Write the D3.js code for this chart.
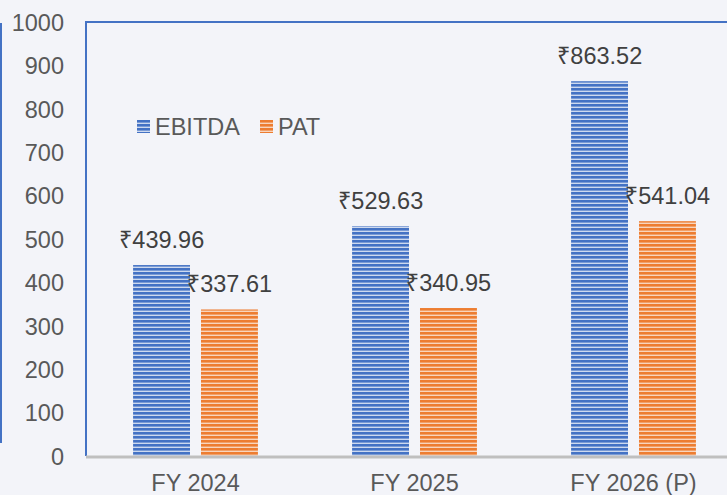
<!DOCTYPE html>
<html>
<head>
<meta charset="utf-8">
<script src="https://cdn.jsdelivr.net/npm/d3@7"></script>
<style>
  html, body { margin: 0; padding: 0; background: #f3f4f9; }
  svg { display: block; font-family: 'Liberation Sans', Arial, sans-serif; }
</style>
</head>
<body>
<svg id="chart" width="727" height="495"></svg>
<script>
// Data
const categories = ['FY 2024', 'FY 2025', 'FY 2026 (P)'];
const seriesNames = ['EBITDA', 'PAT'];
const ebitda = [439.96, 529.63, 863.52];
const pat = [337.61, 340.95, 541.04];
const yTicks = [0, 100, 200, 300, 400, 500, 600, 700, 800, 900, 1000];

const WIDTH = 727;
const PLOT = { LEFT: 86, TOP: 22, BOTTOM: 456, RIGHT: 743 };
const TEXT = '#595959';
const FONT = 23.5;
const colors = {
  EBITDA: { dark: '#4472c4', light: '#cdd9ef' },
  PAT: { dark: '#ed7d31', light: '#f8d5bd' },
};

const svg = d3.select('#chart');

// Striped fills
const defs = svg.append('defs');
seriesNames.forEach((name) => {
  const p = defs.append('pattern')
    .attr('id', `stripe-${name}`)
    .attr('patternUnits', 'userSpaceOnUse')
    .attr('width', 8)
    .attr('height', 4);
  p.append('rect').attr('width', 8).attr('height', 4).attr('fill', colors[name].light);
  p.append('rect').attr('width', 8).attr('height', 2.6).attr('fill', colors[name].dark);
});

const x0 = d3.scaleBand()
  .domain(categories)
  .range([PLOT.LEFT, PLOT.RIGHT])
  .paddingInner(0.43)
  .paddingOuter(0.215);
const x1 = d3.scaleBand()
  .domain(seriesNames)
  .range([0, x0.bandwidth()])
  .paddingInner(0.162);
const y = d3.scaleLinear().domain([0, 1000]).range([PLOT.BOTTOM, PLOT.TOP]);

const rows = categories.map((c, i) => ({
  category: c,
  values: [
    { name: 'EBITDA', value: ebitda[i] },
    { name: 'PAT', value: pat[i] },
  ],
}));

// Left stray border line
svg.append('line')
  .attr('x1', 1).attr('x2', 1)
  .attr('y1', 23).attr('y2', 443)
  .attr('stroke', '#4472c4').attr('stroke-width', 2);

// Plot frame (top and left)
svg.append('path')
  .attr('d', `M${PLOT.LEFT},${PLOT.BOTTOM} V${PLOT.TOP} H${WIDTH}`)
  .attr('fill', 'none')
  .attr('stroke', '#4472c4')
  .attr('stroke-width', 2);

// Y axis labels
const leftAxis = d3.axisLeft(y).tickValues(yTicks).tickFormat(d3.format('d'))
  .tickSize(0).tickPadding(0);
const yAxis = svg.append('g')
  .attr('transform', 'translate(64,0)')
  .call(leftAxis);
yAxis.select('.domain').remove();
yAxis.selectAll('text')
  .attr('fill', TEXT)
  .attr('font-size', FONT)
  .attr('font-family', "'Liberation Sans', Arial, sans-serif")
  .attr('dy', '0.35em');

// Bars
const groups = svg.append('g')
  .selectAll('g')
  .data(rows)
  .join('g')
  .attr('transform', d => `translate(${x0(d.category)},0)`);

groups.selectAll('rect')
  .data(d => d.values)
  .join('rect')
  .attr('x', d => x1(d.name))
  .attr('y', d => y(d.value))
  .attr('width', x1.bandwidth())
  .attr('height', d => y(0) - y(d.value))
  .attr('fill', d => `url(#stripe-${d.name})`);

// Data labels
const labels = groups.selectAll('text')
  .data(d => d.values)
  .join('text')
  .attr('x', d => x1(d.name) + x1.bandwidth() / 2)
  .attr('y', d => y(d.value) - 17)
  .attr('text-anchor', 'middle')
  .attr('fill', '#404040')
  .attr('font-size', FONT);
labels.append('tspan')
  .attr('font-family', "'Noto Sans', sans-serif")
  .text('₹');
labels.append('tspan')
  .text(d => d.value.toFixed(2));

// Baseline
svg.append('line')
  .attr('x1', PLOT.LEFT).attr('x2', WIDTH)
  .attr('y1', y(0) + 1).attr('y2', y(0) + 1)
  .attr('stroke', '#bfbfbf')
  .attr('stroke-width', 3);

// X axis labels
const bottomAxis = d3.axisBottom(x0).tickSize(0).tickPadding(0);
const xAxis = svg.append('g')
  .attr('transform', `translate(0,${PLOT.BOTTOM})`)
  .call(bottomAxis);
xAxis.select('.domain').remove();
xAxis.selectAll('text')
  .attr('fill', TEXT)
  .attr('font-size', FONT)
  .attr('font-family', "'Liberation Sans', Arial, sans-serif")
  .attr('dy', 0)
  .attr('y', 35);

// Legend
const legend = svg.append('g').attr('transform', 'translate(137,120)');
const legendX = [0, 123];
seriesNames.forEach((name, i) => {
  const item = legend.append('g').attr('transform', `translate(${legendX[i]},0)`);
  item.append('rect')
    .attr('width', 13).attr('height', 13)
    .attr('fill', `url(#stripe-${name})`);
  item.append('text')
    .attr('x', 18).attr('y', 6.5)
    .attr('dy', '0.35em')
    .attr('fill', TEXT)
    .attr('font-size', FONT)
    .text(name);
});
</script>
</body>
</html>
